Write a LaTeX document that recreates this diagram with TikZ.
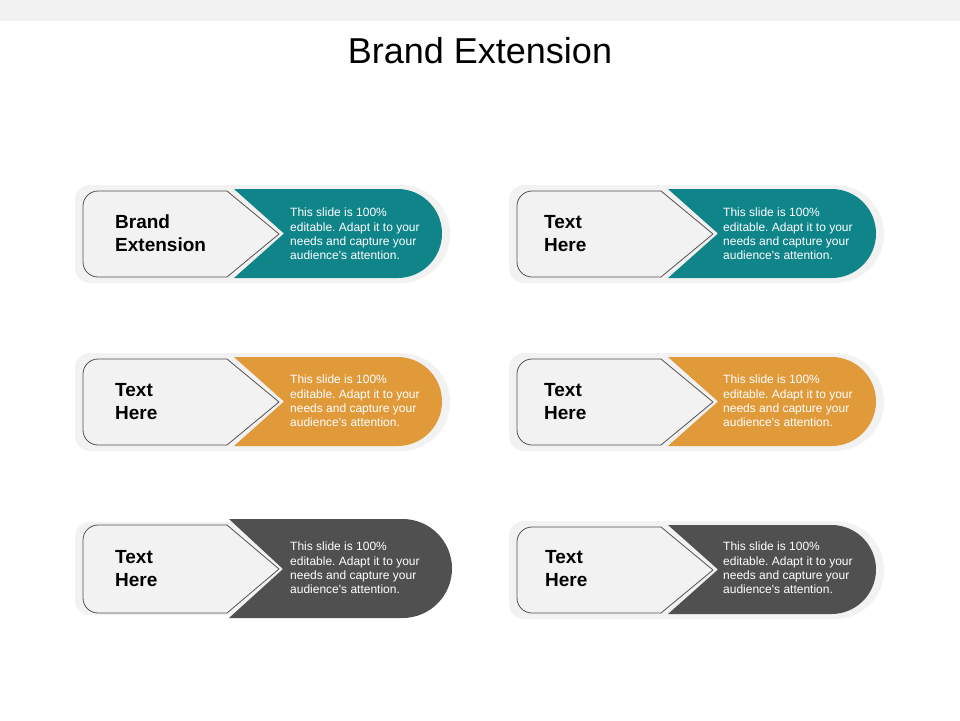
\documentclass[tikz,border=0pt]{standalone}
\usepackage{fontspec}
\setmainfont{Liberation Sans}
\newfontfamily\bodyfont{Liberation Sans}
\frenchspacing
\definecolor{band}{HTML}{F2F2F2}
\definecolor{tilebg}{HTML}{F2F2F2}
\definecolor{arrowfill}{HTML}{F2F2F2}
\definecolor{arrowline}{HTML}{55514F}
\definecolor{tealc}{HTML}{0F858A}
\definecolor{orangec}{HTML}{E09A3A}
\definecolor{darkc}{HTML}{505050}
\tikzset{
  titletext/.style={font=\fontsize{36}{40}\selectfont, inner sep=0pt, anchor=base},
  headtext/.style={font=\fontsize{19}{23}\selectfont\bfseries, align=left, inner sep=0pt, anchor=west, text=black},
  bodytext/.style={font=\bodyfont\fontsize{12}{14.3}\selectfont, align=left, inner sep=0pt, anchor=west, text=white},
  arrowshape/.style={fill=arrowfill, draw=arrowline, line width=0.8pt, line join=round},
}
% #1 x-offset, #2 centre y, #3 colour
\newcommand{\tileBox}[3]{%
  \begin{scope}[xshift=#1]
    \fill[tilebg] (262,#2-48) [rounded corners=49pt] -- (450,#2-48) -- (450,#2+50)
      [rounded corners=15pt] -- (75,#2+50) -- (75,#2-48) -- cycle;
    \fill[#3] (234,#2-44) [rounded corners=44.5pt] -- (442,#2-44) -- (442,#2+45)
      [sharp corners] -- (234,#2+45) -- (284,#2+0.5) -- cycle;
    \draw[arrowshape] (150,#2-42) -- (227,#2-42) -- (279,#2+1) -- (227,#2+44)
      [rounded corners=15pt] -- (83,#2+44) -- (83,#2-42) -- cycle;
  \end{scope}
}
\newcommand{\bodyTxt}{This slide is 100\%\\editable. Adapt it to your\\needs and capture your\\audience's attention.}
\begin{document}
\begin{tikzpicture}[x=1pt,y=-1pt]
\useasboundingbox (0,0) rectangle (960,720);
\fill[white] (0,0) rectangle (960,720);
\fill[band] (0,0) rectangle (960,21);
\node[titletext] (title) at (480,63) {Brand Extension};

% row 1
\tileBox{0}{233}{tealc}
\tileBox{434}{233}{tealc}
% row 2
\tileBox{0}{401}{orangec}
\tileBox{434}{401}{orangec}
% row 3 left (slightly larger dark shape)
\fill[tilebg] (262,522) [rounded corners=46.5pt] -- (448,522) -- (448,615)
  [rounded corners=15pt] -- (75,615) -- (75,522) -- cycle;
\fill[darkc] (229,519) [rounded corners=49.5pt] -- (452,519) -- (452,618)
  [sharp corners] -- (229,618) -- (283,569) -- cycle;
\draw[arrowshape] (150,525) -- (227,525) -- (279,569) -- (227,613)
  [rounded corners=15pt] -- (83,613) -- (83,525) -- cycle;
% row 3 right
\tileBox{434}{569}{darkc}

% headings
\node[headtext] (h1) at (115,233) {Brand\\Extension};
\node[headtext] (h2) at (544,234) {Text\\Here};
\node[headtext] (h3) at (115,401.5) {Text\\Here};
\node[headtext] (h4) at (544,401.5) {Text\\Here};
\node[headtext] (h5) at (115,569) {Text\\Here};
\node[headtext] (h6) at (545,569) {Text\\Here};

% body texts
\node[bodytext] (b1) at (290,234) {\bodyTxt};
\node[bodytext] (b2) at (723,234) {\bodyTxt};
\node[bodytext] (b3) at (290,401) {\bodyTxt};
\node[bodytext] (b4) at (723,401) {\bodyTxt};
\node[bodytext] (b5) at (290,568) {\bodyTxt};
\node[bodytext] (b6) at (723,568) {\bodyTxt};
\end{tikzpicture}
\end{document}
